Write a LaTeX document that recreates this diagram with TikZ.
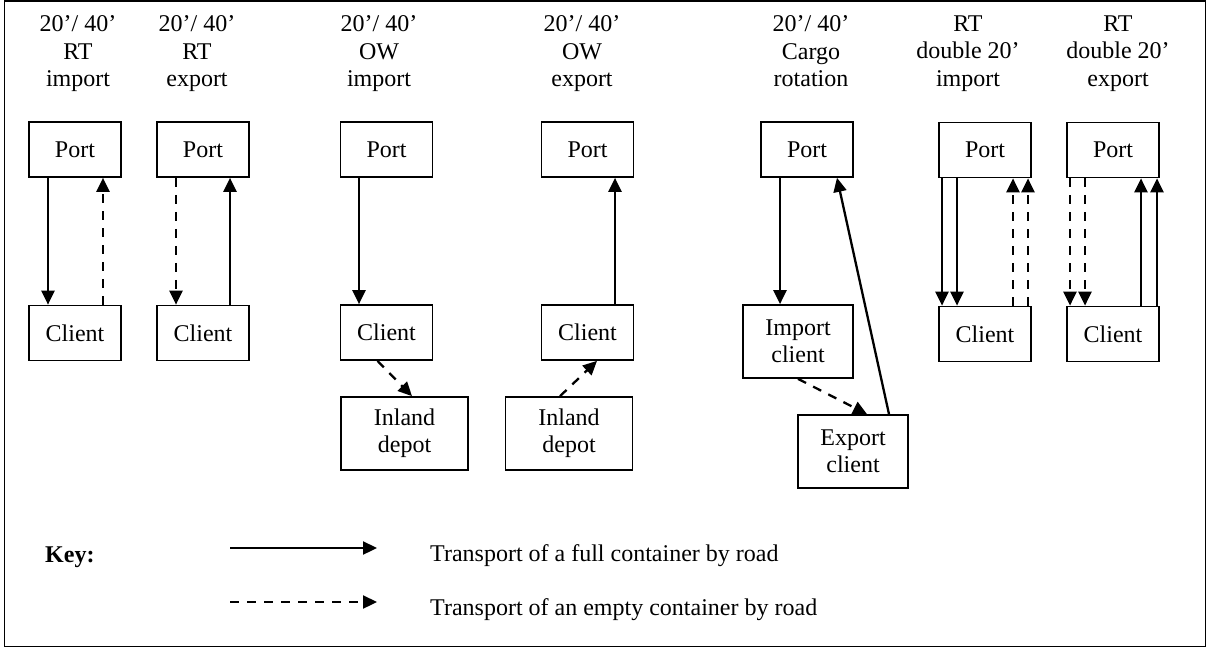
\documentclass[tikz,border=0pt]{standalone}
\usepackage{fontspec}
\setmainfont{Liberation Serif}
\usetikzlibrary{arrows.meta}
\begin{document}
\begin{tikzpicture}[x=1pt,y=-1pt,
  box/.style={draw,line width=1.7pt,inner sep=0pt,align=center,font=\fontsize{24}{27}\selectfont},
  small/.style={box,minimum width=92pt,minimum height=55pt},
  big/.style={box,minimum width=127pt,minimum height=73pt},
  mid/.style={box,minimum width=110pt,minimum height=73pt},
  hdr/.style={inner sep=0pt,align=center,anchor=north,font=\fontsize{24}{27.5}\selectfont},
  keytext/.style={inner sep=0pt,anchor=base west,font=\fontsize{24}{27}\selectfont},
  full/.style={line width=2.3pt,-{Triangle[width=13pt,length=14pt]}},
  empty/.style={full,dash pattern=on 9pt off 8pt},
]
\useasboundingbox (0,0) rectangle (1207,648);
\draw[line width=1.6pt] (4.5,1) rectangle (1205.5,646.5);

% headers
\node[hdr] (h1) at (78,15.5) {20’/ 40’\\RT\\import};
\node[hdr] (h2) at (197,15.5) {20’/ 40’\\RT\\export};
\node[hdr] (h3) at (379,15.5) {20’/ 40’\\OW\\import};
\node[hdr] (h4) at (582,15.5) {20’/ 40’\\OW\\export};
\node[hdr] (h5) at (811,15.5) {20’/ 40’\\Cargo\\rotation};
\node[hdr] (h6) at (968,15.5) {RT\\double 20’\\import};
\node[hdr] (h7) at (1118,15.5) {RT\\double 20’\\export};

% boxes
\node[small] (p1) at (75,149.5) {Port};
\node[small] (c1) at (75,333) {Client};
\node[small] (p2) at (203,149.5) {Port};
\node[small] (c2) at (203,333) {Client};
\node[small] (p3) at (386.5,149.5) {Port};
\node[small] (c3) at (386.5,332.5) {Client};
\node[big] (d3) at (404.5,433.5) {Inland\\depot};
\node[small] (p4) at (587.5,149.5) {Port};
\node[small] (c4) at (587.5,332.5) {Client};
\node[big] (d4) at (569,433.5) {Inland\\depot};
\node[small] (p5) at (807,149.5) {Port};
\node[mid] (ic) at (798,341.5) {Import\\client};
\node[mid] (ec) at (853,451.5) {Export\\client};
\node[small] (p6) at (985,150) {Port};
\node[small] (c6) at (985,334) {Client};
\node[small] (p7) at (1113,150) {Port};
\node[small] (c7) at (1113,334) {Client};

% col 1
\draw[full] ([xshift=-27pt]p1.south) -- ([xshift=-27pt]c1.north);
\draw[empty] ([xshift=28pt]c1.north) -- ([xshift=28pt]p1.south);
% col 2
\draw[empty] ([xshift=-27pt]p2.south) -- ([xshift=-27pt]c2.north);
\draw[full] ([xshift=27pt]c2.north) -- ([xshift=27pt]p2.south);
% col 3
\draw[full] ([xshift=-27.5pt]p3.south) -- ([xshift=-27.5pt]c3.north);
\draw[empty] ([xshift=-9pt]c3.south) -- ([xshift=7.5pt]d3.north);
% col 4
\draw[full] ([xshift=27.5pt]c4.north) -- ([xshift=27.5pt]p4.south);
\draw[empty] ([xshift=-9pt]d4.north) -- ([xshift=9.5pt]c4.south);
% col 5
\draw[full] ([xshift=-27pt]p5.south) -- ([xshift=-18pt]ic.north);
\draw[empty] (ic.south) -- ([xshift=14pt]ec.north);
\draw[full] ([xshift=36pt]ec.north) -- ([xshift=30pt]p5.south);
% col 6
\draw[full] ([xshift=-43pt]p6.south) -- ([xshift=-43pt]c6.north);
\draw[full] ([xshift=-28pt]p6.south) -- ([xshift=-28pt]c6.north);
\draw[empty] ([xshift=28pt]c6.north) -- ([xshift=28pt]p6.south);
\draw[empty] ([xshift=43pt]c6.north) -- ([xshift=43pt]p6.south);
% col 7
\draw[empty] ([xshift=-43pt]p7.south) -- ([xshift=-43pt]c7.north);
\draw[empty] ([xshift=-28pt]p7.south) -- ([xshift=-28pt]c7.north);
\draw[full] ([xshift=28pt]c7.north) -- ([xshift=28pt]p7.south);
\draw[full] ([xshift=44pt]c7.north) -- ([xshift=44pt]p7.south);

% key
\node[keytext,font=\fontsize{24}{27}\selectfont\bfseries] (key) at (45,562) {Key:};
\coordinate (fa) at (230,548);
\coordinate (fb) at (377,548);
\coordinate (ea) at (230,602);
\coordinate (eb) at (377,602);
\draw[full] (fa) -- (fb);
\draw[empty] (ea) -- (eb);
\node[keytext] (t1) at (430,561) {Transport of a full container by road};
\node[keytext] (t2) at (430,615) {Transport of an empty container by road};
\end{tikzpicture}
\end{document}
